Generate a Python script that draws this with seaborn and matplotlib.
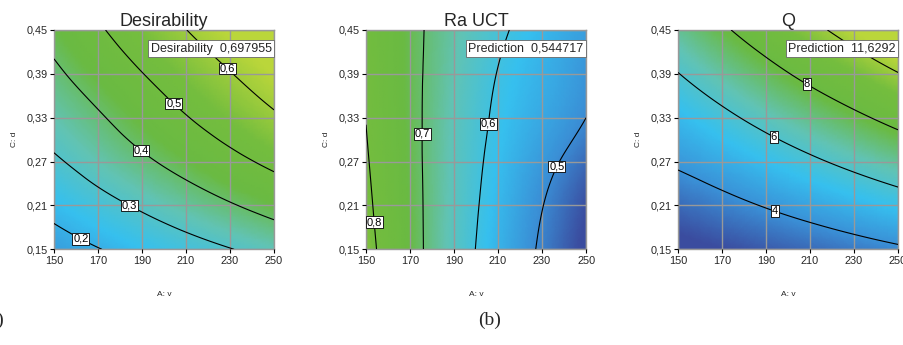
import numpy as np
import matplotlib
matplotlib.use("Agg")
import matplotlib.pyplot as plt
import seaborn as sns
from matplotlib.tri import Triangulation, UniformTriRefiner

# Factor levels at the grid lines
v_ticks = [150, 170, 190, 210, 230, 250]
d_ticks = [0.15, 0.21, 0.27, 0.33, 0.39, 0.45]
v_tick_labels = ["150", "170", "190", "210", "230", "250"]
d_tick_labels = ["0,15", "0,21", "0,27", "0,33", "0,39", "0,45"]

# Response values read at the grid intersections (rows: d low -> high, cols: v low -> high)
desirability = [
    [0.165, 0.197, 0.232, 0.265, 0.297, 0.330],
    [0.226, 0.270, 0.312, 0.353, 0.393, 0.432],
    [0.289, 0.337, 0.385, 0.431, 0.476, 0.519],
    [0.338, 0.390, 0.445, 0.496, 0.544, 0.590],
    [0.384, 0.443, 0.498, 0.549, 0.597, 0.640],
    [0.430, 0.490, 0.546, 0.599, 0.648, 0.692],
]
ra_uct = [
    [0.823, 0.728, 0.639, 0.561, 0.490, 0.420],
    [0.814, 0.725, 0.643, 0.569, 0.502, 0.435],
    [0.806, 0.722, 0.646, 0.579, 0.522, 0.465],
    [0.799, 0.720, 0.650, 0.589, 0.544, 0.500],
    [0.795, 0.719, 0.656, 0.598, 0.557, 0.515],
    [0.789, 0.719, 0.663, 0.612, 0.569, 0.529],
]
q_rate = [
    [2.30, 2.60, 2.91, 3.21, 3.52, 3.83],
    [3.21, 3.64, 4.07, 4.50, 4.93, 5.36],
    [4.18, 4.68, 5.23, 5.79, 6.34, 6.89],
    [5.05, 5.72, 6.40, 7.07, 7.74, 8.42],
    [5.97, 6.77, 7.56, 8.36, 9.15, 9.95],
    [6.89, 7.81, 8.72, 9.64, 10.56, 11.55],
]

panels = [
    dict(title="Desirability", z=desirability, levels=[0.2, 0.3, 0.4, 0.5, 0.6],
         label_levels=[0.2, 0.3, 0.4, 0.5, 0.6],
         label_pos=[(163.6, 0.172), (184.5, 0.212), (190.1, 0.287), (204.7, 0.35), (229, 0.398)],
         flag="Desirability  0,697955", vmin=0.03, vmax=0.64),
    dict(title="Ra UCT", z=ra_uct, levels=[0.5, 0.6, 0.7, 0.8],
         label_levels=[0.5, 0.6, 0.7, 0.8],
         label_pos=[(236.8, 0.263), (204.5, 0.322), (174.9, 0.308), (153.6, 0.187)],
         flag="Prediction  0,544717", vmin=0.43, vmax=0.88),
    dict(title="Q", z=q_rate, levels=[4, 6, 8, 10],
         label_levels=[4, 6, 8],
         label_pos=[(194.7, 0.208), (194.7, 0.31), (209.5, 0.381)],
         flag="Prediction  11,6292", vmin=2.6, vmax=10.5),
]

sns.set_theme(style="white")
plt.rcParams["font.family"] = ["Liberation Sans", "DejaVu Sans"]

cmap = sns.blend_palette(["#3a4c9f", "#3a8fd6", "#36c0ef", "#62c3b4",
                          "#6aba42", "#74bd3e", "#bad63a"], as_cmap=True)


def smooth_surface(z):
    # refine the coarse grid with matplotlib's cubic triangle interpolator
    gx, gy = np.meshgrid(np.arange(len(v_ticks)), np.arange(len(d_ticks)))
    tri = Triangulation(gx.ravel().astype(float), gy.ravel().astype(float))
    fine, zf = UniformTriRefiner(tri).refine_field(np.asarray(z, float).ravel(), subdiv=4)
    fx = np.interp(fine.x, np.arange(len(v_ticks)), v_ticks)
    fy = np.interp(fine.y, np.arange(len(d_ticks)), d_ticks)
    return Triangulation(fx, fy, fine.triangles), zf


def comma_fmt(v):
    return f"{v:g}".replace(".", ",")


fig = plt.figure(figsize=(9.04, 3.45), dpi=100)
lefts = [0.0597, 0.4049, 0.75]

for left, p in zip(lefts, panels):
    ax = fig.add_axes([left, 0.2774, 0.2434, 0.6357])
    tri, zf = smooth_surface(p["z"])
    ax.tripcolor(tri, zf, shading="gouraud", cmap=cmap, vmin=p["vmin"], vmax=p["vmax"], zorder=0.5)
    cs = ax.tricontour(tri, zf, levels=p["levels"], colors="black", linewidths=0.8, zorder=3)
    labels = ax.clabel(cs, levels=p["label_levels"], inline=False, fmt=comma_fmt,
                       fontsize=8, manual=p["label_pos"])
    for t in labels:
        t.set_rotation(0)
        t.set_zorder(5)
        t.set_bbox(dict(facecolor="white", edgecolor="black", linewidth=0.6, pad=0.6))

    ax.set_xlim(v_ticks[0], v_ticks[-1])
    ax.set_ylim(d_ticks[0], d_ticks[-1])
    ax.set_xticks(v_ticks)
    ax.set_xticklabels(v_tick_labels)
    ax.set_yticks(d_ticks)
    ax.set_yticklabels(d_tick_labels)
    ax.set_axisbelow(False)
    ax.grid(True, color="#999999", linewidth=1.0, zorder=2)
    for s in ax.spines.values():
        s.set_color("#999999")
        s.set_linewidth(1.0)
    ax.tick_params(axis="both", which="major", direction="out", length=3, width=0.8,
                   color="black", labelsize=7.8, pad=1.5, bottom=True, left=True)

    ax.set_title(p["title"], fontsize=13, pad=3)
    ax.set_xlabel("A: v", fontsize=6, labelpad=18)
    ax.set_ylabel("C: d", fontsize=6, labelpad=6)

    ax.text(0.989, 0.915, p["flag"], transform=ax.transAxes, ha="right", va="center",
            fontsize=9, zorder=6,
            bbox=dict(facecolor="white", edgecolor="#666666", linewidth=0.6, pad=1.5))

fig.text(4 / 904, 1 - 320 / 345, "(a)", ha="right", va="center", fontsize=14,
         family="Liberation Serif")
fig.text(490 / 904, 1 - 320 / 345, "(b)", ha="center", va="center", fontsize=14,
         family="Liberation Serif")

fig.savefig("out.png", dpi=100)
